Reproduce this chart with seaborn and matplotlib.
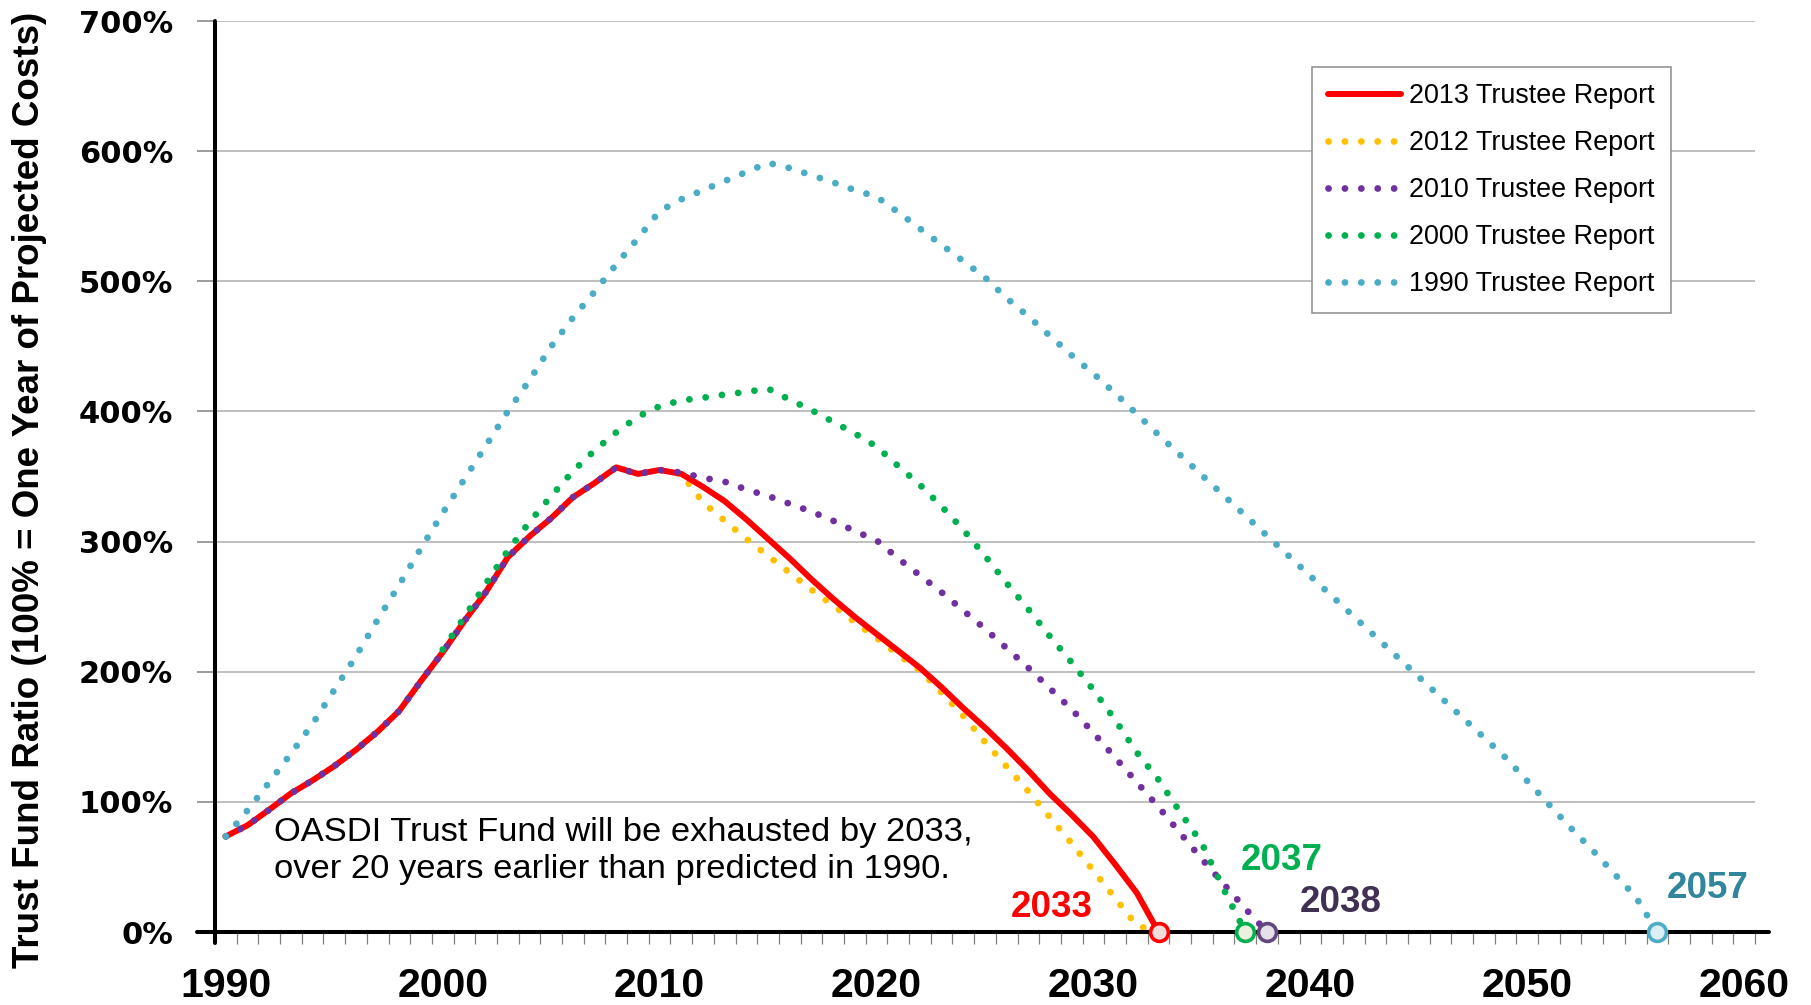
import numpy as np
import seaborn as sns
import matplotlib.pyplot as plt
from matplotlib.ticker import FixedLocator

sns.set_style('white')
plt.rcParams['font.family'] = ['Liberation Sans', 'DejaVu Sans']
plt.rcParams['text.color'] = 'black'
plt.rcParams['xtick.labelcolor'] = 'black'
plt.rcParams['ytick.labelcolor'] = 'black'

# trust fund ratio, % of one year of projected costs
hist_years = list(range(1990, 2011))
hist = [73.5, 82, 94, 106.5, 116.5, 127.5, 140, 154, 170, 193,
        215, 239, 261.5, 288, 304, 318, 334, 345, 357, 352, 355]

yrs_2013 = hist_years + list(range(2011, 2034))
r2013 = hist + [352, 342, 331, 317, 302, 287, 271, 256, 242,
                229, 216, 203, 188, 172, 157, 141, 124, 106, 90,
                73, 52, 30, 0]

yrs_2012 = hist_years + list(range(2011, 2034))
r2012 = hist + [352, 330, 316, 302, 289, 276, 263, 251, 238,
                226, 213, 201, 184, 166, 146, 127, 108, 88, 68,
                47, 26, 5, 0]

yrs_2010 = hist_years + list(range(2011, 2039))
r2010 = hist + [353, 349, 346, 340, 335, 329, 323, 316, 308,
                301, 287, 274, 261, 247, 233, 218, 203, 187, 171,
                153, 134, 115, 96, 76, 56, 37, 18, 0]

yrs_2000 = list(range(2000, 2038))
r2000 = [217, 242, 268, 293, 315, 335, 354, 370, 384, 396,
         404, 408.5, 410.5, 413, 415, 417.5, 409, 401, 392, 383,
         373, 358, 343.6, 327, 309, 289, 268, 248, 227, 207,
         186, 163, 138, 117, 92, 68, 33, 0]

yrs_1990 = list(range(1990, 2057))
r1990 = [73.5, 93.5, 115, 137, 160, 186, 212, 240, 267, 295,
         322, 348, 374, 400, 424, 450, 472, 492, 513, 533,
         554, 563, 570, 577, 584, 591, 587, 581.5, 576, 570,
         565, 553, 540.5, 528, 515.5, 503, 487, 473, 458, 443,
         429, 414, 398, 382, 366.5, 351, 335.5, 320, 304.5, 289,
         273.5, 258, 242.5, 227, 211.5, 196, 180.5, 165, 149.5, 134,
         116, 98, 80, 63, 45, 27, 0]

depl_years = [2033, 2037, 2038, 2056]
depl_labels = ['2033', '2037', '2038', '2057']

fig = plt.figure(figsize=(18.11, 10.05), dpi=100)
ax = fig.add_axes([215 / 1811, 1 - 932 / 1005, 1540 / 1811, 911 / 1005])

dot = (0, (0.01, 2.4))
dot_kw = dict(lw=4.9, linestyle=dot, dash_capstyle='round')

sns.lineplot(x=yrs_2012, y=r2012, ax=ax, color='#FFC000', label='2012 Trustee Report', zorder=2, **dot_kw)
sns.lineplot(x=yrs_2013, y=r2013, ax=ax, color='#FF0000', lw=4.3, label='2013 Trustee Report',
             zorder=3, solid_capstyle='round')
sns.lineplot(x=yrs_2010, y=r2010, ax=ax, color='#7030A0', label='2010 Trustee Report', zorder=4, **dot_kw)
sns.lineplot(x=yrs_2000, y=r2000, ax=ax, color='#00B050', label='2000 Trustee Report', zorder=5, **dot_kw)
sns.lineplot(x=yrs_1990, y=r1990, ax=ax, color='#4BACC6', label='1990 Trustee Report', zorder=6, **dot_kw)

# depletion markers
fills = ['#F2DCDB', '#EBF1DE', '#E5E0EC', '#DBEEF3']
edges = ['#FF0000', '#00B050', '#60497A', '#4BACC6']
for yr, fc, ec in zip(depl_years, fills, edges):
    sns.scatterplot(x=[yr], y=[0], ax=ax, s=165, color=fc, edgecolor=ec, linewidth=2.6,
                    zorder=10, clip_on=False, legend=False)

label_pos = [(2028.1, 19.2), (2038.7, 55.3), (2041.4, 23.0), (2058.3, 33.8)]
label_cols = ['#FF0000', '#00B050', '#403152', '#31859C']
for (lx, ly), txt, c in zip(label_pos, depl_labels, label_cols):
    ax.text(lx, ly, txt, color=c, fontsize=26.5, fontweight='bold', ha='center', va='center')

ax.text(1992.2, 69.9, 'OASDI Trust Fund will be exhausted by 2033,', fontsize=24.8, va='baseline')
ax.text(1992.2, 41.5, 'over 20 years earlier than predicted in 1990.', fontsize=24.8, va='baseline')

ax.set_xlim(1989.5, 2060.5)
ax.set_ylim(0, 700)
for s in ax.spines.values():
    s.set_visible(False)

ax.axhline(0, xmin=-18 / 1540, xmax=1 + 14 / 1540, color='black', lw=2.9, clip_on=False, zorder=8)
ax.axvline(1989.5, ymin=-11 / 911, ymax=1, color='black', lw=2.9, clip_on=False, zorder=8)

ax.yaxis.grid(True, color='#BFBFBF', lw=1.4)
ax.xaxis.grid(False)
ax.set_axisbelow(True)

ax.set_yticks(range(0, 701, 100))
ax.set_yticklabels([f'{v}%' for v in range(0, 701, 100)])
for lbl in ax.get_yticklabels():
    lbl.set_fontfamily('DejaVu Sans')
    lbl.set_fontweight('bold')
ax.tick_params(axis='y', left=True, length=13, width=1.1, color='#808080', pad=17, labelsize=22)

ax.set_xticks(range(1990, 2061, 10))
ax.xaxis.set_minor_locator(FixedLocator(np.arange(1989.5, 2061, 1)))
ax.tick_params(axis='x', which='major', bottom=True, length=0, pad=25, labelsize=29.5)
ax.tick_params(axis='x', which='minor', bottom=True, length=8.5, width=0.9, color='#808080')
for lbl in ax.get_xticklabels():
    lbl.set_fontweight('bold')
ax.set_xlabel('')
ax.set_ylabel('')

fig.text(30 / 1811, 1 - 490 / 1005, 'Trust Fund Ratio (100% = One Year of Projected Costs)',
         rotation=90, ha='center', va='center', fontsize=26.5, fontweight='bold')

handles, labels = ax.get_legend_handles_labels()
order = ['2013 Trustee Report', '2012 Trustee Report', '2010 Trustee Report',
         '2000 Trustee Report', '1990 Trustee Report']
hmap = dict(zip(labels, handles))
leg = ax.legend([hmap[k] for k in order], order, loc='upper left',
                bbox_to_anchor=(0.7123, 0.9495), borderaxespad=0, fontsize=19.4,
                frameon=True, fancybox=False, framealpha=1, edgecolor='#8C8C8C',
                handlelength=2.7, handletextpad=0.3, labelspacing=0.78, borderpad=0.6)
leg.get_frame().set_linewidth(1.1)

fig.savefig('out.png', dpi=100)
